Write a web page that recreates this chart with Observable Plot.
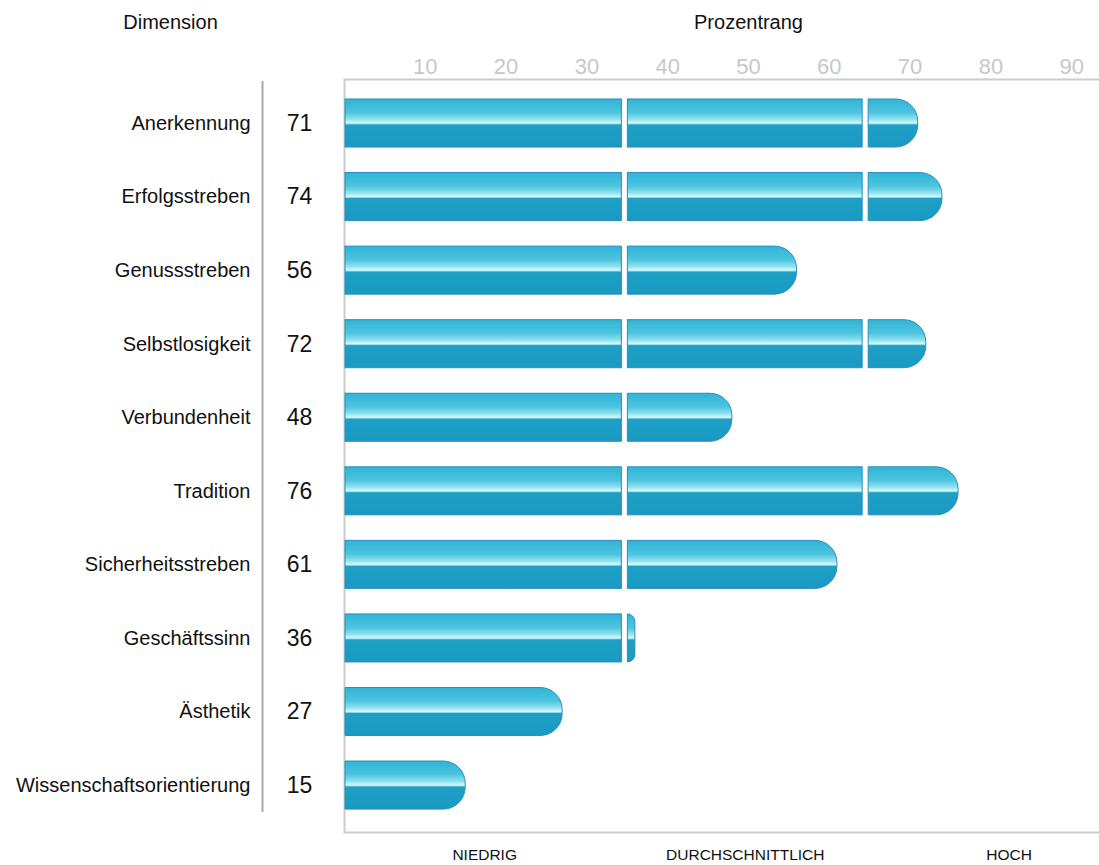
<!DOCTYPE html>
<html><head><meta charset="utf-8">
<script src="https://cdn.jsdelivr.net/npm/d3@7"></script>
<script src="https://cdn.jsdelivr.net/npm/@observablehq/plot@0.6"></script>
<style>html,body{margin:0;padding:0;background:#fff;overflow:hidden} svg{display:block}</style>
</head><body><div id="chart"></div>
<script>
const dimensions = ["Anerkennung","Erfolgsstreben","Genussstreben","Selbstlosigkeit","Verbundenheit","Tradition","Sicherheitsstreben","Geschäftssinn","Ästhetik","Wissenschaftsorientierung"];
const values = [71,74,56,72,48,76,61,36,27,15];
const levelLabels = ["NIEDRIG","DURCHSCHNITTLICH","HOCH"];
const levelBounds = [0, 34.7, 64.5, 100];
const xTicks = [10,20,30,40,50,60,70,80,90];
const xTitle = "Prozentrang";
const yTitle = "Dimension";

const rows = dimensions.map((name, i) => ({name, value: values[i]}));
const levels = levelLabels.map((label, i) => ({label, from: levelBounds[i], to: levelBounds[i + 1]}));
const segments = rows.flatMap(r => levels.filter(l => r.value > l.from).map(l => ({
  name: r.name, x1: l.from, x2: Math.min(r.value, l.to), first: l.from === levelBounds[0], last: r.value <= l.to
})));

const font = "'Liberation Sans', Arial, Helvetica, sans-serif";
const segOpts = (extra) => ({x1: "x1", x2: "x2", y: "name", fill: "url(#barGrad)", stroke: "#2a8dbd", strokeWidth: 1, ...extra});

const svg = Plot.plot({
  width: 1099,
  height: 865,
  marginLeft: 344,
  marginRight: 0,
  marginTop: 79,
  marginBottom: 33,
  style: {fontFamily: font, background: "#fff", color: "#111"},
  x: {domain: [levelBounds[0], levelBounds[3]], range: [344, 1152]},
  y: {domain: dimensions, paddingInner: 0.347, paddingOuter: 0.2915, align: 0.466, round: false},
  marks: [
    Plot.frame({stroke: "#cccccc", strokeWidth: 2, insetRight: -10}),
    Plot.axisX(xTicks, {anchor: "top", tickSize: 0, tickPadding: 6, fontSize: 22, fill: "#c8c8c8", label: null}),
    Plot.axisY({tickSize: 0, tickPadding: 94, fontSize: 20, fill: "#111", label: null}),
    Plot.barX(segments.filter(s => s.first && !s.last), segOpts({insetLeft: 1, insetRight: 3})),
    Plot.barX(segments.filter(s => !s.first && !s.last), segOpts({insetLeft: 3, insetRight: 3})),
    Plot.barX(segments.filter(s => s.first && s.last), segOpts({insetLeft: 1, rx2: 22})),
    Plot.barX(segments.filter(s => !s.first && s.last), segOpts({insetLeft: 3, rx2: 22})),
    Plot.text(rows, {y: "name", text: d => String(d.value), frameAnchor: "left", dx: -45, textAnchor: "middle", fontSize: 23, fill: "#111"}),
    Plot.ruleX([levelBounds[0]], {dx: -82, stroke: "#aaaaaa", strokeWidth: 2, insetTop: 2, insetBottom: 20}),
    Plot.text([yTitle], {frameAnchor: "top-left", dx: -174, dy: -57, textAnchor: "middle", lineAnchor: "middle", fontSize: 20, fill: "#111"}),
    Plot.text([xTitle], {x: () => (levelBounds[0] + levelBounds[3]) / 2, frameAnchor: "top", dy: -57, textAnchor: "middle", lineAnchor: "middle", fontSize: 20, fill: "#111"}),
    Plot.text(levels, {x: d => (d.from + d.to) / 2, text: "label", frameAnchor: "bottom", dy: 23, textAnchor: "middle", lineAnchor: "middle", fontSize: 15.5, fill: "#111"})
  ]
});

d3.select(svg).insert("defs", ":first-child").html(`
  <linearGradient id="barGrad" x1="0" y1="0" x2="0" y2="1">
    <stop offset="0" stop-color="#30b4d6"/>
    <stop offset="0.28" stop-color="#4cc4df"/>
    <stop offset="0.42" stop-color="#8fe0ef"/>
    <stop offset="0.5" stop-color="#d2fafd"/>
    <stop offset="0.52" stop-color="#8fd6e7"/>
    <stop offset="0.54" stop-color="#1d9fc6"/>
    <stop offset="1" stop-color="#1a9ac2"/>
  </linearGradient>`);
document.getElementById("chart").append(svg);
</script>
</body></html>
